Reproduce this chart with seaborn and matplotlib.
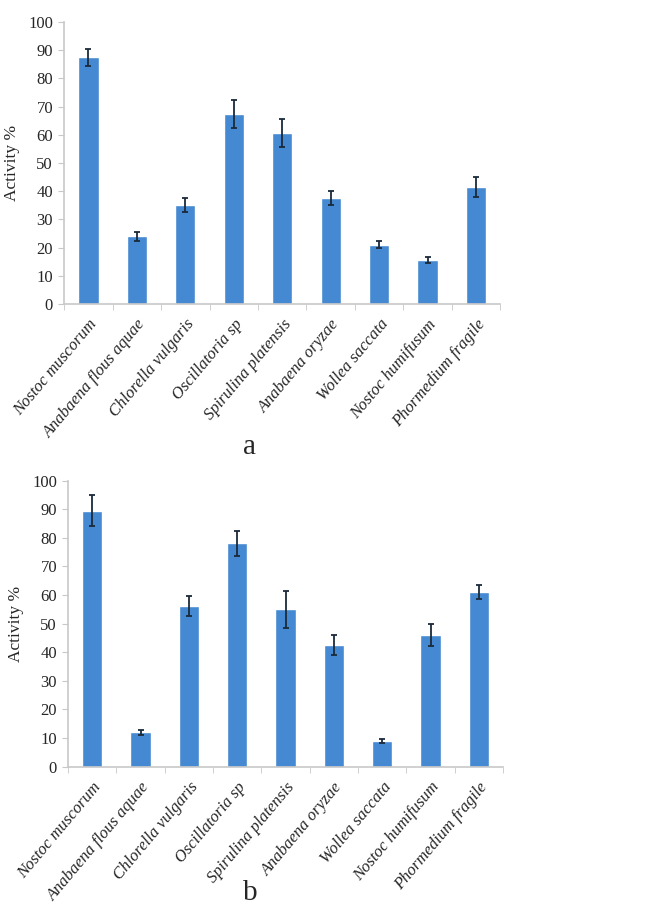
import numpy as np
import pandas as pd
import matplotlib
matplotlib.use("Agg")
import matplotlib.pyplot as plt
import seaborn as sns
from matplotlib.ticker import FixedLocator

# ── Data ────────────────────────────────────────────────────────────────
species = [
    "Nostoc muscorum", "Anabaena flous aquae", "Chlorella vulgaris",
    "Oscillatoria sp", "Spirulina platensis", "Anabaena oryzae",
    "Wollea saccata", "Nostoc humifusum", "Phormedium fragile",
]
activity_a = [87.5, 24.0, 35.0, 67.5, 60.5, 37.5, 21.0, 15.5, 41.5]
error_a = [3.0, 1.5, 2.5, 5.0, 5.0, 2.5, 1.3, 1.0, 3.5]
activity_b = [89.5, 12.0, 56.0, 78.0, 55.0, 42.5, 9.0, 46.0, 61.0]
error_b = [5.5, 0.8, 3.5, 4.5, 6.5, 3.5, 0.7, 4.0, 2.5]
y_ticks = list(range(0, 101, 10))

BAR_COLOR = "#4589D2"
AXIS_GRAY = "#c8c8c8"

sns.set_style("white")
plt.rcParams["font.family"] = ["Liberation Serif", "DejaVu Serif"]

fig = plt.figure(figsize=(6.68, 9.17), dpi=100)
ax_a = fig.add_axes([0.096, 0.6685, 0.653, 0.3075])
ax_b = fig.add_axes([0.102, 0.164, 0.651, 0.312])


def draw_panel(ax, values, errors, letter, letter_y):
    df = pd.DataFrame({"species": species, "activity": values})
    sns.barplot(data=df, x="species", y="activity", color=BAR_COLOR,
                saturation=1, width=0.42, errorbar=None, ax=ax)
    ax.errorbar(np.arange(len(species)), values, yerr=errors, fmt="none",
                ecolor="#1a2a3a", elinewidth=1.3, capsize=2.5, capthick=1.3)

    ax.set_ylim(0, 100)
    ax.set_xlim(-0.5, len(species) - 0.5)
    ax.set_yticks(y_ticks)
    ax.set_yticklabels([str(t) for t in y_ticks], fontsize=12)
    ax.set_ylabel("Activity %", fontsize=12.5, labelpad=6)
    ax.set_xlabel("")

    # Excel-style category ticks between bars
    ax.set_xticks(np.arange(len(species)))
    ax.set_xticklabels(species, rotation=50, ha="right", rotation_mode="anchor",
                       fontsize=12, style="italic")
    ax.xaxis.set_minor_locator(FixedLocator(np.arange(-0.5, len(species), 1.0)))
    ax.tick_params(axis="x", which="major", length=0, pad=9)
    ax.tick_params(axis="x", which="minor", length=4, color=AXIS_GRAY,
                   direction="out", bottom=True)
    ax.tick_params(axis="y", length=4, color=AXIS_GRAY, direction="out",
                   left=True, pad=4)

    for side in ["top", "right"]:
        ax.spines[side].set_visible(False)
    for side in ["left", "bottom"]:
        ax.spines[side].set_color(AXIS_GRAY)
        ax.spines[side].set_linewidth(1.2)

    fig.text(0.374, letter_y, letter, fontsize=21, ha="center", va="center")


draw_panel(ax_a, activity_a, error_a, "a", 1 - 447 / 917)
draw_panel(ax_b, activity_b, error_b, "b", 1 - 893 / 917)

fig.savefig("out.png", dpi=100)
